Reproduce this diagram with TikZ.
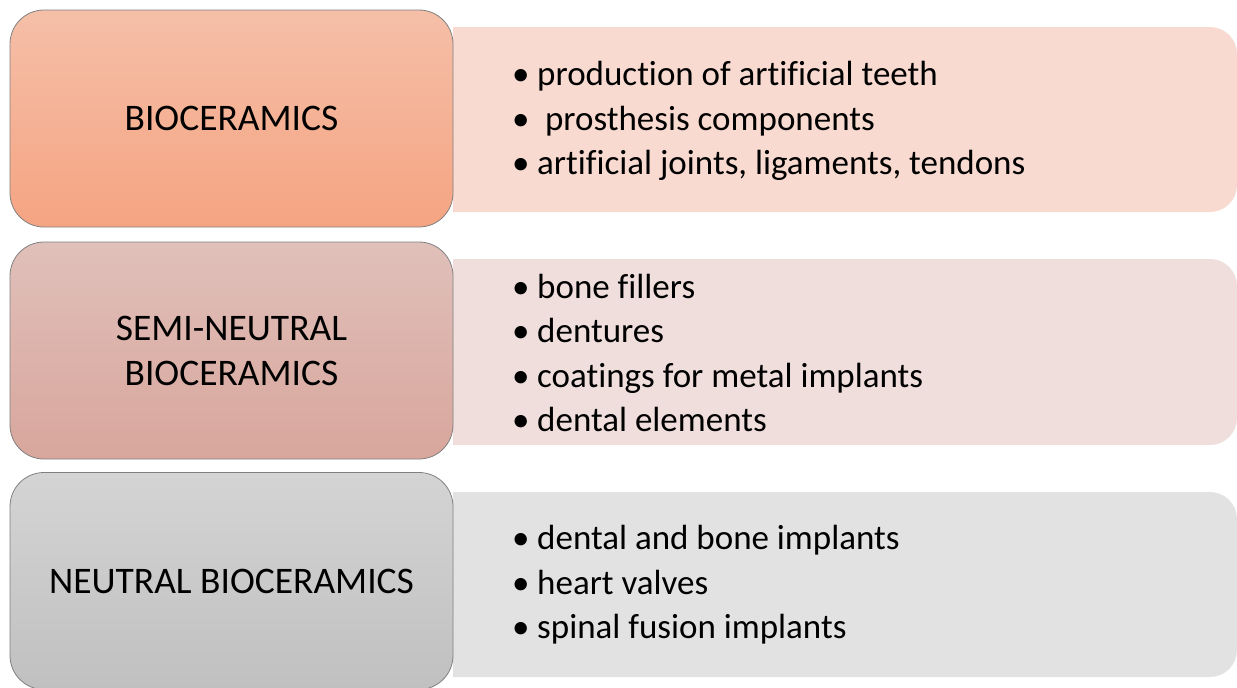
\documentclass[tikz,border=0pt]{standalone}
\usepackage{fontspec}
\setmainfont{Carlito}[Ligatures=NoCommon]
\usepackage{xcolor}
\usepackage{tikz}
\usetikzlibrary{positioning}
\definecolor{bioTop}{HTML}{F5BFA8}
\definecolor{bioBot}{HTML}{F5A482}
\definecolor{bioSoft}{HTML}{F8DAD0}
\definecolor{semiTop}{HTML}{E0C0BA}
\definecolor{semiBot}{HTML}{D8A69C}
\definecolor{semiSoft}{HTML}{EFDEDC}
\definecolor{neutTop}{HTML}{D4D4D4}
\definecolor{neutBot}{HTML}{C0C0C0}
\definecolor{neutSoft}{HTML}{E2E2E2}
\newcommand{\itm}[1]{\makebox[25pt][l]{•}#1}
\tikzset{
  catbox/.style={draw=black!50,line width=0.8pt,rounded corners=34pt,minimum width=443pt,minimum height=217pt,align=center,inner sep=0pt,font=\fontsize{37.5}{45}\selectfont},
  listtext/.style={anchor=west,align=left,inner sep=0pt,font=\fontsize{35}{44.5}\selectfont}
}

\begin{document}
\begin{tikzpicture}[x=1pt,y=-1pt]
\useasboundingbox (0,0) rectangle (1237,688);
% soft application panels, right corners rounded
\fill[bioSoft] (453,27) [rounded corners=27pt] -- (1237,27) -- (1237,212) [sharp corners] -- (453,212) -- cycle;
\fill[semiSoft] (453,259) [rounded corners=27pt] -- (1237,259) -- (1237,445) [sharp corners] -- (453,445) -- cycle;
\fill[neutSoft] (453,492) [rounded corners=27pt] -- (1237,492) -- (1237,677) [sharp corners] -- (453,677) -- cycle;
% category boxes
\node[catbox,top color=bioTop,bottom color=bioBot] (bio) at (231.5,118.5) {BIOCERAMICS};
\node[catbox,top color=semiTop,bottom color=semiBot] (semi) at (231.5,350.5) {SEMI-NEUTRAL\\BIOCERAMICS};
\node[catbox,top color=neutTop,bottom color=neutBot] (neut) at (231.5,581) {NEUTRAL BIOCERAMICS};
% application lists
\node[listtext] (bioapp) at (512,121) {\itm{production of artificial teeth}\\\itm{\ prosthesis components}\\\itm{artificial joints, ligaments, tendons}};
\node[listtext] (semiapp) at (512,353) {\itm{bone fillers}\\\itm{dentures}\\\itm{coatings for metal implants}\\\itm{dental elements}};
\node[listtext] (neutapp) at (512,585) {\itm{dental and bone implants}\\\itm{heart valves}\\\itm{spinal fusion implants}};
\end{tikzpicture}
\end{document}
